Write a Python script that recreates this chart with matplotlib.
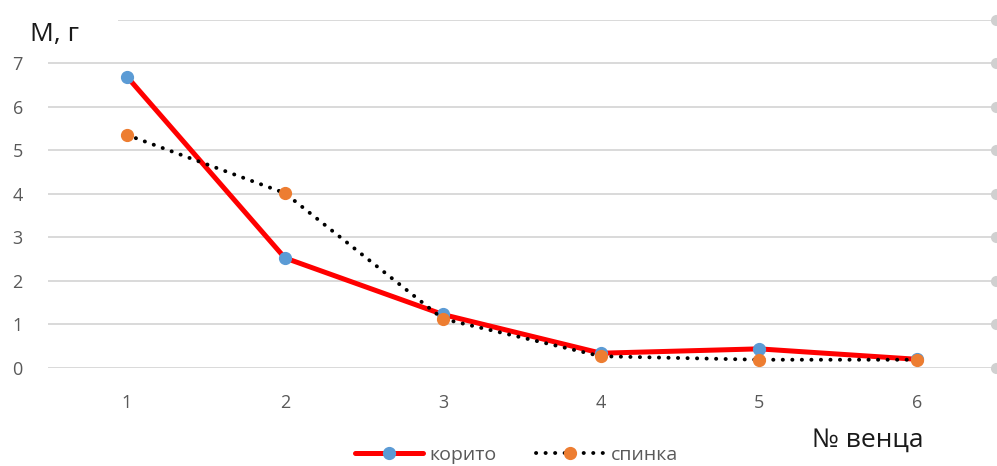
import matplotlib
matplotlib.use("Agg")
import matplotlib.pyplot as plt

plt.rcParams['font.family'] = ['Open Sans', 'DejaVu Sans']

# Crown number and mass per crown
crowns = [1, 2, 3, 4, 5, 6]
koryto = [6.70, 2.53, 1.23, 0.34, 0.44, 0.20]
spinka = [5.36, 4.02, 1.13, 0.27, 0.19, 0.19]
y_ticks = [0, 1, 2, 3, 4, 5, 6, 7]

fig = plt.figure(figsize=(9.97, 4.66), dpi=100)
ax = fig.add_axes([0.048, 0.2103, 0.951, 0.7468])
ax.set_xlim(0.5, 6.5)
ax.set_ylim(0, 8)

grid_c = '#d9d9d9'
for v in y_ticks:
    ax.axhline(v, color=grid_c, lw=1.4, zorder=0)
# top gridline, partly hidden behind the axis title
ax.axhline(8, xmin=0.075, color=grid_c, lw=1.4, zorder=0)
ax.plot([6.5] * 9, list(range(9)), 'o', ms=7, color='#d0d0d0',
        clip_on=False, zorder=0)

ax.plot(crowns, koryto, color='#ff0000', lw=3.6, marker='o', ms=8.5,
        mfc='#5b9bd5', mec='#5b9bd5', solid_capstyle='round', zorder=3,
        label='корито')
ax.plot(crowns, spinka, color='black', lw=2.8, linestyle=(0, (0.05, 2.4)),
        dash_capstyle='round', marker='o', ms=8.5, mfc='#ed7d31',
        mec='#ed7d31', zorder=4, label='спинка')

for s in ax.spines.values():
    s.set_visible(False)
ax.set_xticks(crowns)
ax.set_yticks(y_ticks)
ax.tick_params(length=0, labelsize=13, labelcolor='#595959')
ax.tick_params(axis='x', pad=19)
ax.tick_params(axis='y', pad=18)

fig.text(0.03, 0.925, 'M, г', fontsize=19, color='#1a1a1a', va='center', ha='left')
fig.text(0.814, 0.055, '№ венца', fontsize=19, color='#1a1a1a', va='center', ha='left')

ax.legend(loc='center', bbox_to_anchor=(0.518, 0.024), bbox_transform=fig.transFigure,
          ncol=2, frameon=False, fontsize=14, labelcolor='#595959',
          handlelength=3.5, columnspacing=2.0, handletextpad=0.35)

fig.savefig('out.png', dpi=100)
